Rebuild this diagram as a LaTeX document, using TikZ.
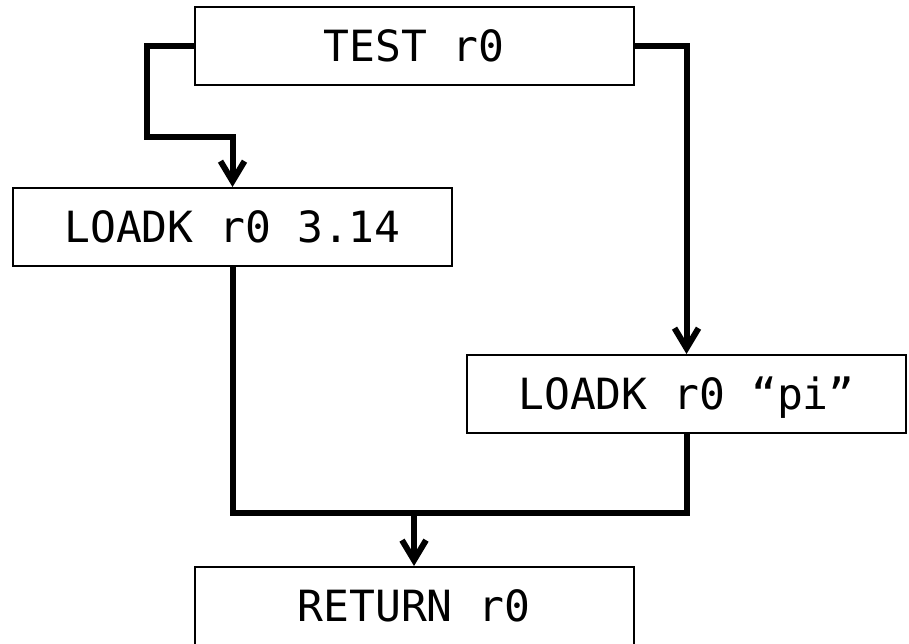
\documentclass[tikz,border=0pt]{standalone}
\usepackage{fontspec}
\newfontfamily\codefont{DejaVu Sans Mono}
\usetikzlibrary{arrows.meta}

\tikzset{
  instr/.style={draw=black, line width=2pt, rectangle, fill=white,
    minimum width=439pt, minimum height=78pt, inner sep=0pt,
    text height=31pt, text depth=0pt,
    font=\codefont\fontsize{43}{50}\selectfont},
  conn/.style={draw=black, line width=6pt, line join=miter},
  flow/.style={conn, -{Straight Barb[length=20pt, width=24pt, line width=6pt]}}
}

\begin{document}
\begin{tikzpicture}[x=1pt, y=-1pt]
  \useasboundingbox (0,0) rectangle (909,643);

  % instructions of the control-flow graph
  \node[instr] (test) at (414,46)    {TEST r0};
  \node[instr] (ka)   at (232.5,227) {LOADK r0 3.14};
  \node[instr] (kb)   at (686.5,394) {LOADK r0 “pi”};
  \node[instr] (ret)  at (414,606)   {RETURN r0};

  % routing points of the branches
  \coordinate (bend) at (147,137);
  \coordinate (join) at (414,513);

  % branches out of the test
  \draw[flow] (test.west) -| (bend) -| (ka.north);
  \draw[flow] (test.east) -| (kb.north);

  % both paths merge before the return
  \draw[conn] (ka.south) |- (join) -| (kb.south);
  \draw[flow] (join) -- (ret.north);
\end{tikzpicture}
\end{document}
